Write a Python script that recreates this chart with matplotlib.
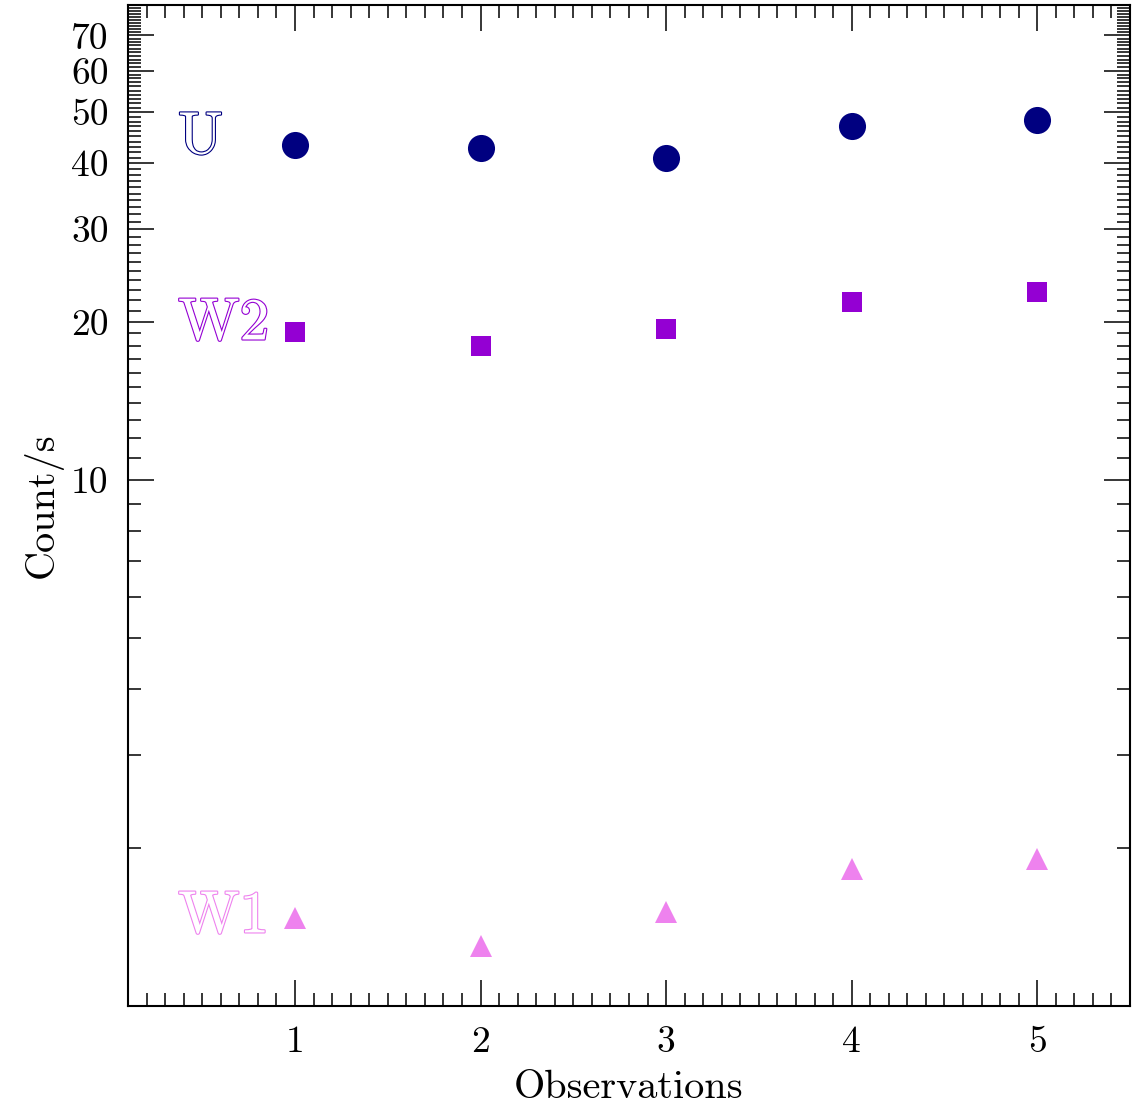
import matplotlib
matplotlib.use("Agg")
import matplotlib.pyplot as plt
import matplotlib.patheffects as pe

# Data
obs = [1, 2, 3, 4, 5]
u_rate = [43.3, 42.7, 40.9, 47.2, 48.3]
w2_rate = [19.1, 18.0, 19.4, 21.8, 22.8]
w1_rate = [1.47, 1.30, 1.51, 1.82, 1.90]

filters = ["U", "W2", "W1"]
filter_colors = ["#000080", "#9400D3", "#EE82EE"]
label_y = [41.8, 18.5, 1.38]

y_major = [10, 20, 30, 40, 50, 60, 70]
y_minor = [v for v in range(2, 80) if v % 10 != 0]
x_major = [1, 2, 3, 4, 5]
x_minor = [i / 10 for i in range(2, 55) if i % 10 != 0]

plt.rcParams["font.family"] = "cmr10"
plt.rcParams["axes.formatter.use_mathtext"] = True

fig = plt.figure(figsize=(11.36, 11.05), dpi=100)
ax = fig.add_axes([0.1127, 0.0896, 0.882, 0.9059])

ax.plot(obs, u_rate, "o", color=filter_colors[0], markersize=19.5, markeredgewidth=0)
ax.plot(obs, w2_rate, "s", color=filter_colors[1], markersize=14.5, markeredgewidth=0)
ax.plot(obs, w1_rate, "^", color=filter_colors[2], markersize=16, markeredgewidth=0)

# filter names drawn as outlined letters, like the double-stroke font of the original
for name, col, yl in zip(filters, filter_colors, label_y):
    ax.text(0.37, yl, name, color="white", fontsize=43, ha="left", va="baseline",
            path_effects=[pe.withStroke(linewidth=1.6, foreground=col)])

ax.set_yscale("log")
ax.set_xlim(0.1, 5.5)
ax.set_ylim(1.0, 80)

ax.set_yticks(y_major)
ax.set_yticklabels([str(v) for v in y_major])
ax.set_yticks(y_minor, minor=True)
ax.set_yticklabels([], minor=True)
ax.set_xticks(x_major)
ax.set_xticklabels([str(v) for v in x_major])
ax.set_xticks(x_minor, minor=True)

ax.tick_params(which="both", direction="in", top=True, right=True, width=1.1, colors="black")
ax.tick_params(which="major", length=19, labelsize=27, pad=14)
ax.tick_params(which="minor", length=9.5)
for s in ax.spines.values():
    s.set_linewidth(1.5)

ax.set_xlabel("Observations", fontsize=29, labelpad=8)
ax.set_ylabel("Count/s", fontsize=29, labelpad=6)

fig.savefig("out.png", dpi=100)
